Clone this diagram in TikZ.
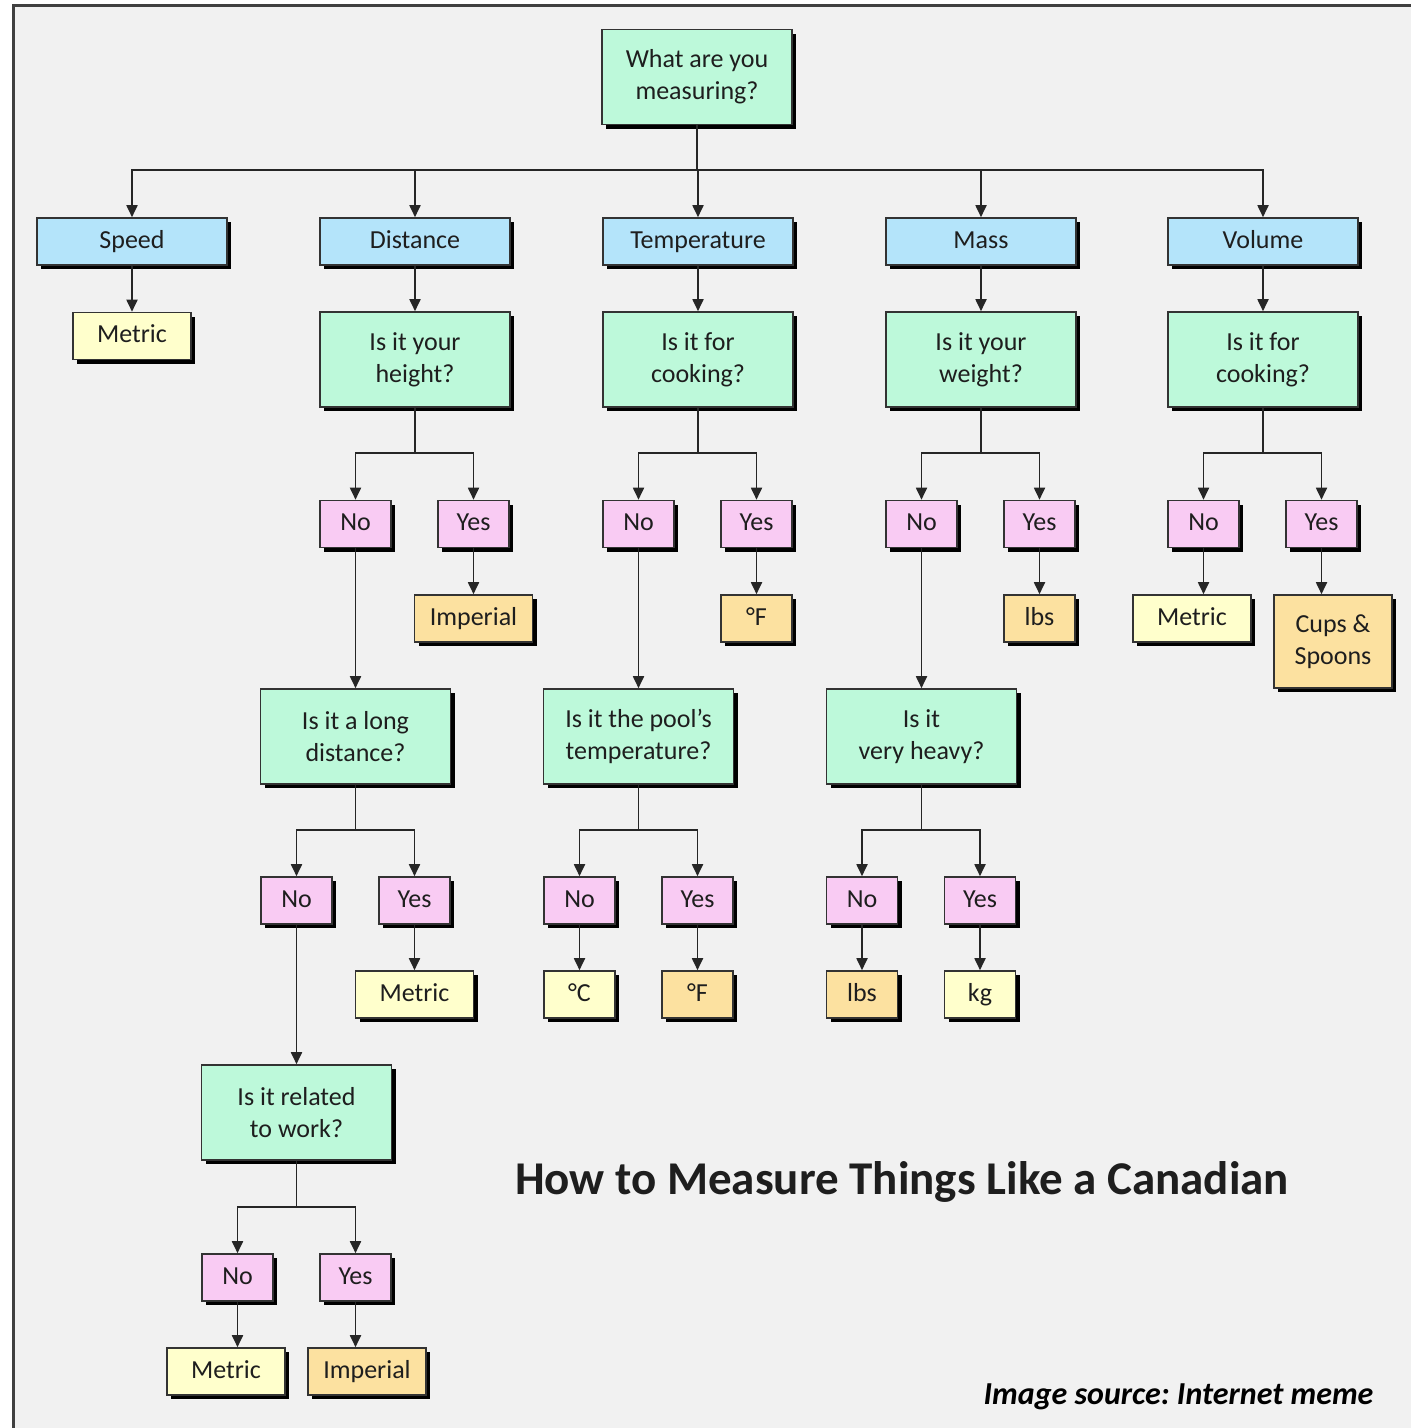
\documentclass[tikz,border=0pt]{standalone}
\usepackage{fontspec}
\setmainfont{Carlito}
\usetikzlibrary{shadows,arrows.meta}
\definecolor{bgc}{HTML}{F1F1F1}
\definecolor{catc}{HTML}{B4E4FA}
\definecolor{qc}{HTML}{BDF9DA}
\definecolor{ync}{HTML}{F9CBF3}
\definecolor{metc}{HTML}{FFFFCC}
\definecolor{impc}{HTML}{FCE1A0}
\definecolor{txtc}{HTML}{1E1E1E}
\definecolor{edgec}{HTML}{333333}
\tikzset{
  box/.style={draw=edgec, line width=1.6pt, inner sep=0pt, align=center, text=txtc,
    font=\fontsize{26}{32}\selectfont,
    drop shadow={shadow xshift=4pt, shadow yshift=-4pt, opacity=1, fill=black}},
  oneline/.style={text height=18pt, text depth=5pt},
  cat/.style={box, oneline, fill=catc, minimum width=190pt, minimum height=47pt},
  ques/.style={box, fill=qc, minimum width=190pt, minimum height=95pt},
  yn/.style={box, oneline, fill=ync, minimum width=71pt, minimum height=47pt},
  met/.style={box, oneline, fill=metc, minimum width=118pt, minimum height=47pt},
  imp/.style={box, oneline, fill=impc, minimum width=118pt, minimum height=47pt},
  impbig/.style={box, fill=impc, minimum width=118pt, minimum height=93pt},
  arr/.style={draw=black!85, line width=1.8pt, -{Triangle[length=12pt,width=11pt]}},
}
\begin{document}
\begin{tikzpicture}[x=1pt,y=-1pt]
\useasboundingbox (0,0) rectangle (1411,1428);
\fill[white] (0,0) rectangle (1411,1428);
\fill[bgc] (13,5) rectangle (1411,1428);
\draw[line width=3pt, draw=black!75] (13,1428) -- (13,5) -- (1411,5);

% level 0
\node[ques] (root) at (697,77) {What are you\\measuring?};
% level 1
\node[cat] (speed) at (132,241.5) {Speed};
\node[cat] (dist) at (415,241.5) {Distance};
\node[cat] (temp) at (698,241.5) {Temperature};
\node[cat] (mass) at (981,241.5) {Mass};
\node[cat] (vol) at (1263,241.5) {Volume};
\coordinate (b0) at (697,170);
\foreach \c in {speed,dist,temp,mass,vol}
  \draw[arr] (root.south) -- (root.south |- b0) -| (\c.north);

% speed
\node[met] (spm) at (132,336) {Metric};
\draw[arr] (speed.south) -- (spm.north);

% level 2 questions
\node[ques] (qh) at (415,359.5) {Is it your\\height?};
\node[ques] (qc) at (698,359.5) {Is it for\\cooking?};
\node[ques] (qw) at (981,359.5) {Is it your\\weight?};
\node[ques] (qv) at (1263,359.5) {Is it for\\cooking?};
\draw[arr] (dist.south) -- (qh.north);
\draw[arr] (temp.south) -- (qc.north);
\draw[arr] (mass.south) -- (qw.north);
\draw[arr] (vol.south) -- (qv.north);

% yes/no row 1
\coordinate (b1) at (0,453);
\node[yn] (hn) at (355.5,524) {No};
\node[yn] (hy) at (473.5,524) {Yes};
\node[yn] (cn) at (638.5,524) {No};
\node[yn] (cy) at (756.5,524) {Yes};
\node[yn] (wn) at (921.5,524) {No};
\node[yn] (wy) at (1039.5,524) {Yes};
\node[yn] (vn) at (1203.5,524) {No};
\node[yn] (vy) at (1321.5,524) {Yes};
\foreach \p/\a/\b in {qh/hn/hy, qc/cn/cy, qw/wn/wy, qv/vn/vy}{
  \draw[arr] (\p.south) -- (\p.south |- b1) -| (\a.north);
  \draw[arr] (\p.south) -- (\p.south |- b1) -| (\b.north);
}

% results row 1
\node[imp] (himp) at (473.5,618.5) {Imperial};
\node[imp, minimum width=71pt] (cf) at (756.5,618.5) {°F};
\node[imp, minimum width=71pt] (wlbs) at (1039.5,618.5) {lbs};
\node[met] (vmet) at (1192,618.5) {Metric};
\node[impbig] (vcup) at (1333,641.5) {Cups \&\\Spoons};
\draw[arr] (hy.south) -- (himp.north);
\draw[arr] (cy.south) -- (cf.north);
\draw[arr] (wy.south) -- (wlbs.north);
\draw[arr] (vn.south) -- (vn.south |- vmet.north);
\draw[arr] (vy.south) -- (vy.south |- vcup.north);

% level 3 questions
\node[ques] (ql) at (355.5,736.5) {Is it a long\\distance?};
\node[ques] (qp) at (638.5,736.5) {Is it the pool’s\\temperature?};
\node[ques] (qhv) at (921.5,736.5) {Is it\\very heavy?};
\draw[arr] (hn.south) -- (ql.north);
\draw[arr] (cn.south) -- (qp.north);
\draw[arr] (wn.south) -- (qhv.north);

% yes/no row 2
\coordinate (b2) at (0,830);
\node[yn] (ln) at (296.5,900.5) {No};
\node[yn] (ly) at (414.5,900.5) {Yes};
\node[yn] (pn) at (579.5,900.5) {No};
\node[yn] (py) at (697.5,900.5) {Yes};
\node[yn] (vhn) at (862,900.5) {No};
\node[yn] (vhy) at (980,900.5) {Yes};
\foreach \p/\a/\b in {ql/ln/ly, qp/pn/py, qhv/vhn/vhy}{
  \draw[arr] (\p.south) -- (\p.south |- b2) -| (\a.north);
  \draw[arr] (\p.south) -- (\p.south |- b2) -| (\b.north);
}

% results row 2
\node[met] (lmet) at (414.5,994.5) {Metric};
\node[met, minimum width=71pt] (pc) at (579.5,994.5) {°C};
\node[imp, minimum width=71pt] (pf) at (697.5,994.5) {°F};
\node[imp, minimum width=71pt] (hlbs) at (862,994.5) {lbs};
\node[met, minimum width=71pt] (hkg) at (980,994.5) {kg};
\draw[arr] (ly.south) -- (lmet.north);
\draw[arr] (pn.south) -- (pc.north);
\draw[arr] (py.south) -- (pf.north);
\draw[arr] (vhn.south) -- (hlbs.north);
\draw[arr] (vhy.south) -- (hkg.north);

% work question
\node[ques] (qwk) at (296.5,1112.5) {Is it related\\to work?};
\draw[arr] (ln.south) -- (qwk.north);
\coordinate (b3) at (0,1207);
\node[yn] (kn) at (237.5,1277.5) {No};
\node[yn] (ky) at (355.5,1277.5) {Yes};
\draw[arr] (qwk.south) -- (qwk.south |- b3) -| (kn.north);
\draw[arr] (qwk.south) -- (qwk.south |- b3) -| (ky.north);
\node[met] (kmet) at (226,1371.5) {Metric};
\node[imp] (kimp) at (367,1371.5) {Imperial};
\draw[arr] (kn.south) -- (kn.south |- kmet.north);
\draw[arr] (ky.south) -- (ky.south |- kimp.north);

% titles
\node[font=\bfseries\fontsize{47}{56}\selectfont, text=txtc] (title) at (902,1182) {How to Measure Things Like a Canadian};
\node[font=\bfseries\itshape\fontsize{32}{38}\selectfont, anchor=east] (src) at (1377,1397) {\frenchspacing Image source: Internet meme};
\end{tikzpicture}
\end{document}
